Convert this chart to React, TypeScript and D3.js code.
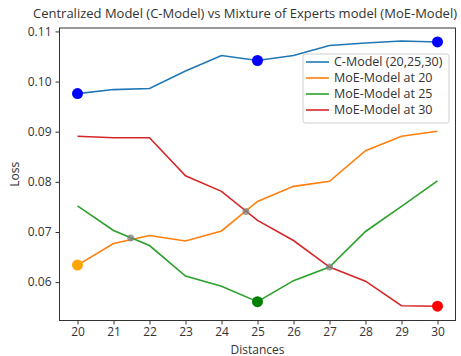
import React, { useEffect, useRef } from 'react';
import * as d3 from 'd3';

// distances on the x axis
const distances = [20, 21, 22, 23, 24, 25, 26, 27, 28, 29, 30];

// loss values
const cModel = [0.0976, 0.0984, 0.0986, 0.1021, 0.1052, 0.1042, 0.1052, 0.1072, 0.1077, 0.1081, 0.1079];
const moe20 = [0.0634, 0.0677, 0.0693, 0.0682, 0.0702, 0.0761, 0.0791, 0.0801, 0.0862, 0.0891, 0.0901];
const moe25 = [0.0752, 0.0703, 0.0673, 0.0612, 0.0592, 0.0561, 0.0603, 0.0630, 0.0701, 0.0751, 0.0802];
const moe30 = [0.0891, 0.0888, 0.0888, 0.0812, 0.0781, 0.0723, 0.0683, 0.0630, 0.0602, 0.0553, 0.0552];

const seriesNames = ['C-Model (20,25,30)', 'MoE-Model at 20', 'MoE-Model at 25', 'MoE-Model at 30'];
const seriesColors = ['#1f77b4', '#ff7f0e', '#2ca02c', '#d62728'];

// big highlight dots
const bigDotX = [20, 25, 30, 20, 25, 30];
const bigDotY = [0.0976, 0.1042, 0.1079, 0.0634, 0.0561, 0.0552];
const bigDotColor = ['blue', 'blue', 'blue', 'orange', 'green', 'red'];

// grey crossing points
const crossX = [21.48, 24.68, 27];
const crossY = [0.0688, 0.0741, 0.0630];

const yTicks = [0.06, 0.07, 0.08, 0.09, 0.10, 0.11];

const App = () => {
  const ref = useRef<SVGSVGElement>(null);

  useEffect(() => {
    const width = 461;
    const height = 356;
    const left = 59.5, right = 455.5, top = 28, bottom = 320.5;
    const font = '"Open Sans", sans-serif';
    const ink = '#333';

    const svg = d3.select(ref.current);
    svg.selectAll('*').remove();
    svg.attr('width', width).attr('height', height);

    const x = d3.scaleLinear().domain([19.5, 30.5]).range([left, right]);
    const y = d3.scaleLinear().domain([0.05235, 0.11068]).range([bottom, top]);

    // title
    svg.append('text')
      .attr('x', 245)
      .attr('y', 18)
      .attr('text-anchor', 'middle')
      .style('font-family', font)
      .style('font-size', '13px')
      .style('fill', ink)
      .text('Centralized Model (C-Model) vs Mixture of Experts model (MoE-Model)');

    // axes
    const xAxis = d3.axisBottom(x).tickValues(distances).tickSize(4).tickPadding(3).tickFormat(d3.format('d'));
    const yAxis = d3.axisLeft(y).tickValues(yTicks).tickSize(4).tickPadding(4).tickFormat(d3.format('.2f'));

    const gx = svg.append('g').attr('transform', 'translate(0,' + bottom + ')').call(xAxis);
    const gy = svg.append('g').attr('transform', 'translate(' + left + ',0)').call(yAxis);
    [gx, gy].forEach(g => {
      g.select('.domain').remove();
      g.selectAll('line').attr('stroke', ink);
      g.selectAll('text').style('font-family', font).style('font-size', '12px').style('fill', ink);
    });

    svg.append('text')
      .attr('x', (left + right) / 2)
      .attr('y', 353.5)
      .attr('text-anchor', 'middle')
      .style('font-family', font)
      .style('font-size', '12px')
      .style('fill', ink)
      .text('Distances');

    svg.append('text')
      .attr('transform', 'translate(19,' + (top + bottom) / 2 + ') rotate(-90)')
      .attr('text-anchor', 'middle')
      .style('font-family', font)
      .style('font-size', '12px')
      .style('fill', ink)
      .text('Loss');

    // lines
    const allSeries = [cModel, moe20, moe25, moe30];
    const line = d3.line<number>().x((d, i) => x(distances[i])).y(d => y(d));
    allSeries.forEach((s, i) => {
      svg.append('path')
        .datum(s)
        .attr('d', line)
        .attr('fill', 'none')
        .attr('stroke', seriesColors[i])
        .attr('stroke-width', 1.6);
    });

    // dots
    svg.selectAll('.big')
      .data(bigDotX)
      .enter()
      .append('circle')
      .attr('class', 'big')
      .attr('cx', d => x(d))
      .attr('cy', (d, i) => y(bigDotY[i]))
      .attr('r', 5.5)
      .style('fill', (d, i) => bigDotColor[i]);

    svg.selectAll('.cross')
      .data(crossX)
      .enter()
      .append('circle')
      .attr('class', 'cross')
      .attr('cx', d => x(d))
      .attr('cy', (d, i) => y(crossY[i]))
      .attr('r', 3.5)
      .style('fill', 'grey')
      .style('opacity', 0.75);

    // frame
    svg.append('rect')
      .attr('x', left).attr('y', top)
      .attr('width', right - left).attr('height', bottom - top)
      .attr('fill', 'none')
      .attr('stroke', ink)
      .attr('stroke-width', 1);

    // legend
    const legend = svg.append('g').attr('transform', 'translate(303,54)');
    legend.append('rect')
      .attr('width', 146).attr('height', 69)
      .attr('rx', 2.5)
      .attr('fill', 'white').attr('fill-opacity', 0.8)
      .attr('stroke', '#d0d0d0');
    const rows = legend.selectAll('.row')
      .data(seriesNames)
      .enter().append('g')
      .attr('class', 'row')
      .attr('transform', (d, i) => 'translate(0,' + (8 + i * 16) + ')');
    rows.append('line')
      .attr('x1', 3).attr('x2', 26)
      .attr('stroke', (d, i) => seriesColors[i])
      .attr('stroke-width', 1.6);
    rows.append('text')
      .attr('x', 31)
      .attr('dy', '0.35em')
      .style('font-family', font)
      .style('font-size', '12.5px')
      .style('fill', ink)
      .text(d => d);
  }, []);

  return <svg ref={ref} style={{ position: 'absolute', left: 0, top: 0 }} />;
};

export default App;
